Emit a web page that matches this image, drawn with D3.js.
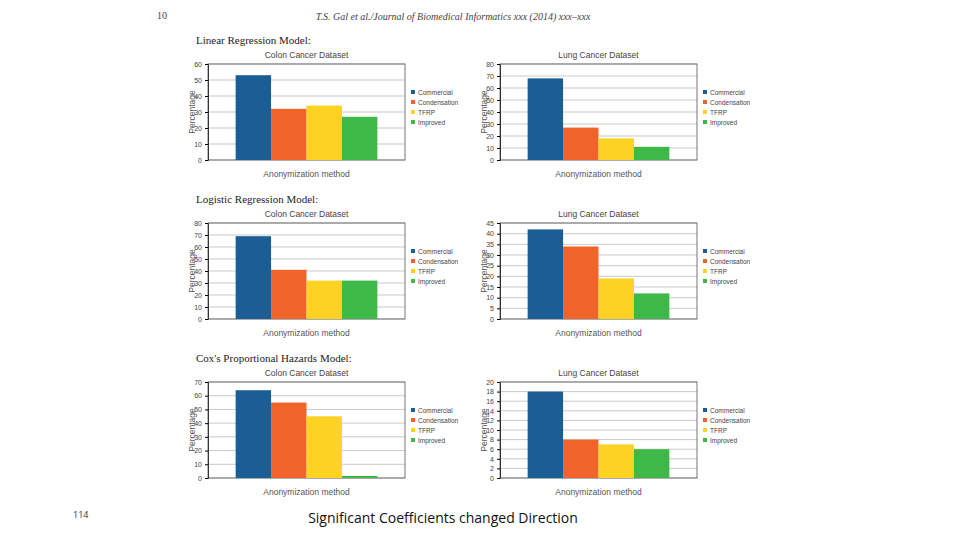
<!DOCTYPE html>
<html><head><meta charset="utf-8">
<script src="https://cdn.jsdelivr.net/npm/d3@7"></script>
<style>body{margin:0;background:#fff}svg{display:block}</style>
</head><body>
<svg id="c" width="960" height="540"></svg>
<script>
var methods = ['Commercial', 'Condensation', 'TFRP', 'Improved'];
var colors = ['#1a5e95', '#f0632a', '#fcd323', '#3fb84a'];
var models = ['Linear Regression Model:', 'Logistic Regression Model:', "Cox's Proportional Hazards Model:"];
var datasets = ['Colon Cancer Dataset', 'Lung Cancer Dataset'];
// values per model: [colon, lung]
var linearVals = [[53, 32, 34, 27], [68, 27, 18, 11]];
var logisticVals = [[69, 41, 32, 32], [42, 34, 19, 12]];
var coxVals = [[64, 55, 45, 1.5], [18, 8, 7, 6]];
var yMax = [[60, 80], [80, 45], [70, 20]];
var yStep = [[10, 10], [10, 5], [10, 2]];
var allVals = [linearVals, logisticVals, coxVals];

var svg = d3.select('#c');
svg.append('text').attr('x', 157).attr('y', 19).attr('font-family', 'Liberation Serif').attr('font-size', 10).attr('fill', '#444').text('10');
svg.append('text').attr('x', 453).attr('y', 20).attr('text-anchor', 'middle').attr('font-family', 'Liberation Serif').attr('font-style', 'italic').attr('font-size', 10).attr('fill', '#444').text('T.S. Gal et al./Journal of Biomedical Informatics xxx (2014) xxx–xxx');
svg.append('text').attr('x', 73).attr('y', 518).attr('font-family', 'Open Sans').attr('font-size', 9).attr('fill', '#333').text('114');
svg.append('text').attr('x', 443).attr('y', 523).attr('text-anchor', 'middle').attr('font-family', 'Open Sans').attr('font-size', 14).attr('fill', '#111').text('Significant Coefficients changed Direction');

var rowTop = [64, 223, 382], plotH = 96;
var colLeft = [208, 500], plotW = 197;

models.forEach(function (m, r) {
  svg.append('text').attr('x', 196).attr('y', rowTop[r] - 20).attr('font-family', 'Liberation Serif').attr('font-size', 11).attr('fill', '#222').text(m);
  datasets.forEach(function (ds, c) {
    var g = svg.append('g').attr('transform', 'translate(' + colLeft[c] + ',' + rowTop[r] + ')');
    var y = d3.scaleLinear().domain([0, yMax[r][c]]).range([plotH, 0]);
    var x = d3.scaleBand().domain(methods).range([0, plotW]).paddingOuter(0.78).paddingInner(0);
    var ticks = d3.range(0, yMax[r][c] + 0.001, yStep[r][c]);
    g.selectAll('.grid').data(ticks).enter().append('line')
      .attr('x1', 0).attr('x2', plotW).attr('y1', y).attr('y2', y).attr('stroke', '#bbb').attr('stroke-width', 0.8);
    g.append('rect').attr('width', plotW).attr('height', plotH).attr('fill', 'none').attr('stroke', '#555').attr('stroke-width', 0.8);
    g.selectAll('.bar').data(allVals[r][c]).enter().append('rect')
      .attr('x', function (d, i) { return x(methods[i]); })
      .attr('y', function (d) { return y(d); })
      .attr('width', x.bandwidth())
      .attr('height', function (d) { return plotH - y(d); })
      .attr('fill', function (d, i) { return colors[i]; });
    var ax = g.append('g').call(d3.axisLeft(y).tickValues(ticks).tickSize(3).tickFormat(d3.format('d')));
    ax.select('.domain').attr('stroke', '#333');
    ax.selectAll('text').attr('font-family', 'Liberation Sans').attr('font-size', 7).attr('fill', '#444');
    g.append('text').attr('x', plotW / 2).attr('y', -6).attr('text-anchor', 'middle').attr('font-family', 'Liberation Sans').attr('font-size', 8.5).attr('fill', '#444').text(ds);
    g.append('text').attr('x', plotW / 2).attr('y', plotH + 17).attr('text-anchor', 'middle').attr('font-family', 'Liberation Sans').attr('font-size', 8.5).attr('fill', '#555').text('Anonymization method');
    g.append('text').attr('transform', 'translate(-13,' + plotH / 2 + ') rotate(-90)').attr('text-anchor', 'middle').attr('font-family', 'Liberation Sans').attr('font-size', 8.5).attr('fill', '#555').text('Percentage');
    var lg = g.append('g').attr('transform', 'translate(' + (plotW + 6) + ',30)');
    methods.forEach(function (mm, i) {
      lg.append('rect').attr('x', 0).attr('y', i * 10 - 4).attr('width', 4).attr('height', 4).attr('fill', colors[i]);
      lg.append('text').attr('x', 7).attr('y', i * 10 + 0.5).attr('font-family', 'Liberation Sans').attr('font-size', 6.5).attr('fill', '#444').text(mm);
    });
  });
});
</script>
</body></html>
